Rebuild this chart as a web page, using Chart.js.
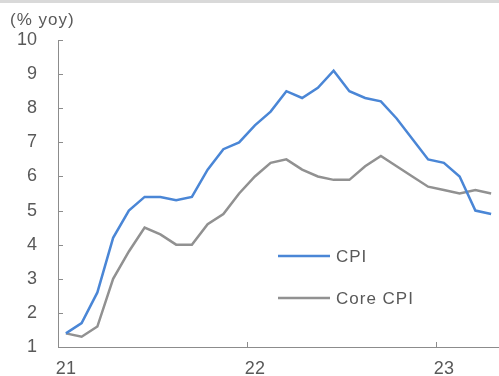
<!DOCTYPE html>
<html>
<head>
<meta charset="utf-8">
<script src="https://cdn.jsdelivr.net/npm/chart.js@4/dist/chart.umd.min.js"></script>
<style>
  html, body { margin: 0; padding: 0; background: #ffffff; }
  canvas { display: block; }
</style>
</head>
<body>
<canvas id="c" width="499" height="376"></canvas>
<script>
// Monthly periods, Jan 2021 – Apr 2023
const months = [
  '21.01','21.02','21.03','21.04','21.05','21.06','21.07','21.08','21.09','21.10','21.11','21.12',
  '22.01','22.02','22.03','22.04','22.05','22.06','22.07','22.08','22.09','22.10','22.11','22.12',
  '23.01','23.02','23.03','23.04'
];
// Headline CPI, % yoy
const cpi = [
  1.4, 1.7, 2.6, 4.2, 5.0, 5.4, 5.4, 5.3, 5.4, 6.2, 6.8, 7.0,
  7.5, 7.9, 8.5, 8.3, 8.6, 9.1, 8.5, 8.3, 8.2, 7.7, 7.1, 6.5,
  6.4, 6.0, 5.0, 4.9
];
// Core CPI, % yoy
const coreCpi = [
  1.4, 1.3, 1.6, 3.0, 3.8, 4.5, 4.3, 4.0, 4.0, 4.6, 4.9, 5.5,
  6.0, 6.4, 6.5, 6.2, 6.0, 5.9, 5.9, 6.3, 6.6, 6.3, 6.0, 5.7,
  5.6, 5.5, 5.6, 5.5
];
const seriesNames = ['CPI', 'Core CPI'];
const yTicks = [1, 2, 3, 4, 5, 6, 7, 8, 9, 10];
const unitLabel = '(% yoy)';

const TEXT = '#595959';
const AXIS = '#8c8c8c';
const FONT = "'Liberation Sans', Arial, sans-serif";

// Frame details: top rule, unit label, inward tick marks, in-plot legend
const decorations = {
  id: 'decorations',
  beforeDraw(chart) {
    const ctx = chart.ctx;
    ctx.save();
    ctx.fillStyle = '#d9d9d9';
    ctx.fillRect(0, 0, chart.width, 3);
    ctx.restore();
  },
  afterDraw(chart) {
    const ctx = chart.ctx;
    const xs = chart.scales.x, ys = chart.scales.y;
    const area = chart.chartArea;
    ctx.save();
    // unit label
    ctx.fillStyle = TEXT;
    ctx.font = '17px ' + FONT;
    ctx.letterSpacing = '1px';
    ctx.textBaseline = 'middle';
    ctx.textAlign = 'left';
    ctx.fillText(unitLabel, 10, 20);

    // inward ticks on the value axis
    ctx.strokeStyle = AXIS;
    ctx.lineWidth = 1;
    ctx.beginPath();
    yTicks.forEach(v => {
      const y = Math.round(ys.getPixelForValue(v)) + 0.5;
      ctx.moveTo(area.left, y);
      ctx.lineTo(area.left + 5, y);
    });
    // inward ticks on the category axis, at year boundaries
    months.forEach((m, i) => {
      if (i > 0 && m.endsWith('.01')) {
        const x = Math.round((xs.getPixelForValue(i - 1) + xs.getPixelForValue(i)) / 2) + 0.5;
        ctx.moveTo(x, area.bottom);
        ctx.lineTo(x, area.bottom - 5);
      }
    });
    ctx.stroke();

    // legend
    const lx = 278, ly = [256, 298];
    chart.data.datasets.forEach((ds, i) => {
      ctx.strokeStyle = ds.borderColor;
      ctx.lineWidth = ds.borderWidth;
      ctx.beginPath();
      ctx.moveTo(lx, ly[i]);
      ctx.lineTo(lx + 52, ly[i]);
      ctx.stroke();
      ctx.fillStyle = TEXT;
      ctx.fillText(ds.label, lx + 58, ly[i] + 1);
    });
    ctx.restore();
  }
};

new Chart(document.getElementById('c'), {
  type: 'line',
  data: {
    labels: months,
    datasets: [
      { label: seriesNames[0], data: cpi, borderColor: '#4a86d6', borderWidth: 2.5 },
      { label: seriesNames[1], data: coreCpi, borderColor: '#919191', borderWidth: 2.5 }
    ]
  },
  options: {
    responsive: false,
    animation: false,
    layout: { padding: { top: 40, left: 0, right: 0, bottom: 0 } },
    elements: { point: { radius: 0 }, line: { tension: 0 } },
    plugins: { legend: { display: false }, tooltip: { enabled: false } },
    scales: {
      x: {
        offset: true,
        grid: { display: false, drawTicks: false },
        border: { display: true, color: AXIS, width: 1 },
        afterFit(s) { s.height = 29; s.paddingLeft = 0; s.paddingRight = 0; },
        ticks: {
          autoSkip: false,
          maxRotation: 0,
          padding: 11,
          color: TEXT,
          font: { family: FONT, size: 18 },
          callback(v, i) {
            const m = months[i];
            return m.endsWith('.01') ? m.slice(0, 2) : '';
          }
        }
      },
      y: {
        min: 1,
        max: 10,
        grid: { display: false, drawTicks: false },
        border: { display: true, color: AXIS, width: 1 },
        afterFit(s) { s.width = 58; s.paddingTop = 0; s.paddingBottom = 0; },
        afterBuildTicks(s) { s.ticks = yTicks.map(v => ({ value: v })); },
        ticks: {
          padding: 21,
          color: TEXT,
          font: { family: FONT, size: 18 }
        }
      }
    }
  },
  plugins: [decorations]
});
</script>
</body>
</html>
